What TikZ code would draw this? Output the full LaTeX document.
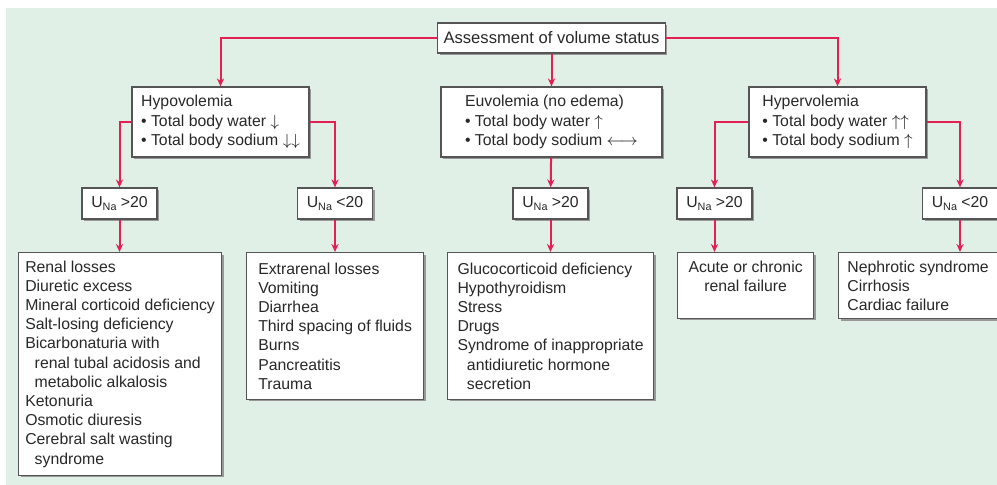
\documentclass[tikz,border=0pt]{standalone}
\usepackage{fontspec}
\setmainfont{Liberation Sans}
\usetikzlibrary{arrows.meta,shadows}
\definecolor{bggreen}{RGB}{224,240,231}
\definecolor{linkred}{RGB}{226,32,84}
\definecolor{boxgray}{RGB}{85,85,85}
\definecolor{txtgray}{RGB}{40,40,40}
\tikzset{>={Stealth[length=4pt,width=3.6pt]},
  box/.style={draw=boxgray, line width=0.6pt, fill=white, text=txtgray,
    drop shadow={shadow xshift=1pt, shadow yshift=-1pt, fill=black!40, opacity=1},
    font=\fontsize{7.9}{9.6}\selectfont, inner xsep=3pt, inner ysep=4pt},
  head/.style={box, align=left, minimum height=35pt},
  una/.style={box, minimum width=37.5pt, minimum height=15.5pt, inner sep=1pt},
  list/.style={box, anchor=north west, align=left},
  link/.style={draw=linkred, line width=1pt, ->}}
\newcommand{\una}{U\raisebox{-1.6pt}{\fontsize{5.4}{6}\selectfont Na}}
\newcommand{\sub}{\hspace*{0.6em}}

\begin{document}
\begin{tikzpicture}[x=0.5pt,y=-0.5pt]
\useasboundingbox (0,0) rectangle (997,485);
\fill[bggreen] (6,8) rectangle (997,485);

\node[box, minimum width=110.5pt, minimum height=15pt, font=\fontsize{8.3}{10}\selectfont] (assess) at (551.5,38) {Assessment of volume status};

\node[head, minimum width=88.5pt] (hypo) at (220.5,122) {Hypovolemia\\\textbullet\ Total body water $\downarrow$\\\textbullet\ Total body sodium $\downarrow\downarrow$};
\node[head, minimum width=110.5pt] (euvo) at (551.5,122) {Euvolemia (no edema)\\\textbullet\ Total body water $\uparrow$\\\textbullet\ Total body sodium $\longleftrightarrow$};
\node[head, minimum width=88.5pt] (hyper) at (837.5,122) {Hypervolemia\\\textbullet\ Total body water $\uparrow\uparrow$\\\textbullet\ Total body sodium $\uparrow$};

\node[una] (ugt1) at (119.5,203.5) {\una{} >20};
\node[una] (ult1) at (335,203.5) {\una{} <20};
\node[una] (ugt2) at (550.5,203.5) {\una{} >20};
\node[una] (ugt3) at (714.5,203.5) {\una{} >20};
\node[una] (ult2) at (960,203.5) {\una{} <20};

\node[list, minimum width=101.5pt] (renal) at (18,252) {Renal losses\\Diuretic excess\\Mineral corticoid deficiency\\Salt-losing deficiency\\Bicarbonaturia with\\\sub renal tubal acidosis and\\\sub metabolic alkalosis\\Ketonuria\\Osmotic diuresis\\Cerebral salt wasting\\\sub syndrome};
\node[list, minimum width=88.5pt, inner ysep=5pt] (extra) at (246,252) {Extrarenal losses\\Vomiting\\Diarrhea\\Third spacing of fluids\\Burns\\Pancreatitis\\Trauma};
\node[list, minimum width=103pt, inner ysep=5pt] (gluco) at (447,252) {Glucocorticoid deficiency\\Hypothyroidism\\Stress\\Drugs\\Syndrome of inappropriate\\\sub antidiuretic hormone\\\sub secretion};
\node[list, align=center, minimum width=68pt, text depth=9.5pt] (acute) at (677,252) {Acute or chronic\\renal failure};
\node[list, minimum width=79.5pt] (nephro) at (838,252) {Nephrotic syndrome\\Cirrhosis\\Cardiac failure};

\draw[link] (assess.west) -| (hypo);
\draw[link] (assess) -- (euvo);
\draw[link] (assess.east) -| (hyper);
\draw[link] (hypo.west) -| (ugt1);
\draw[link] (hypo.east) -| (ult1);
\draw[link] (euvo) -- (ugt2);
\draw[link] (hyper.west) -| (ugt3);
\draw[link] (hyper.east) -| (ult2);
\draw[link] (ugt1) -- (ugt1 |- renal.north);
\draw[link] (ult1) -- (ult1 |- extra.north);
\draw[link] (ugt2) -- (ugt2 |- gluco.north);
\draw[link] (ugt3) -- (ugt3 |- acute.north);
\draw[link] (ult2) -- (ult2 |- nephro.north);
\end{tikzpicture}
\end{document}
